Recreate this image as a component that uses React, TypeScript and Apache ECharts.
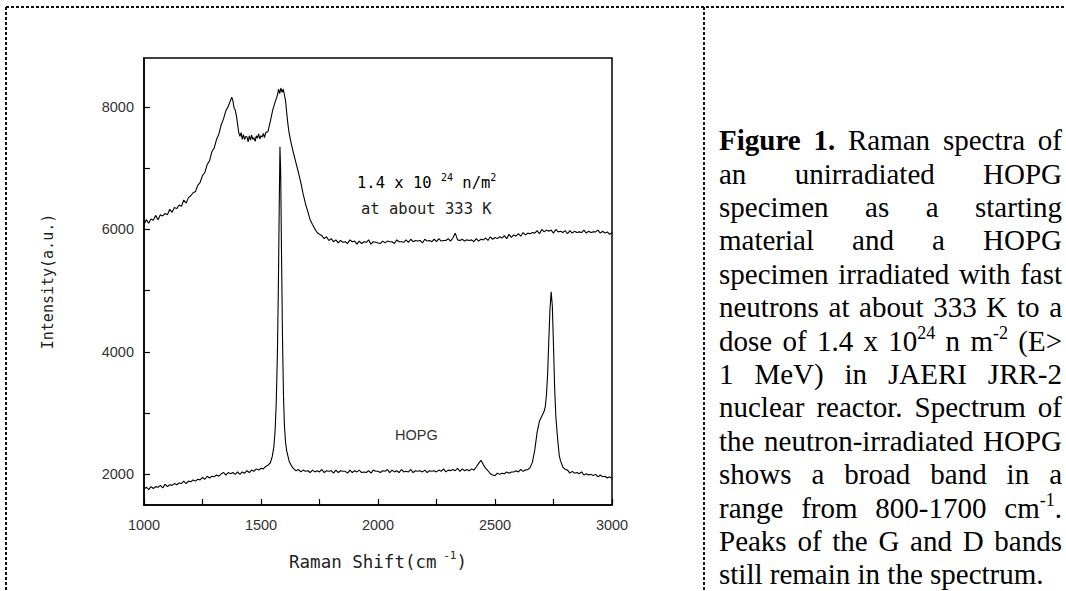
import React, { useEffect, useRef } from "react";
import * as echarts from "echarts";

const xTickValues = [1000, 1250, 1500, 1750, 2000, 2250, 2500, 2750, 3000];
const xLabelValues = [1000, 1500, 2000, 2500, 3000];
const yTickValues = [2000, 3000, 4000, 5000, 6000, 7000, 8000];
const yLabelValues = [2000, 4000, 6000, 8000];

// Neutron-irradiated HOPG (1.4 x 10^24 n/m^2 at about 333 K)
const irradiated: [number, number][] = [
  [1000, 6080], [1010, 6160], [1020, 6100], [1030, 6170], [1040, 6150], [1050, 6230], [1060, 6160], [1070, 6240],
  [1080, 6220], [1090, 6260], [1100, 6240], [1110, 6330], [1120, 6280], [1130, 6360], [1140, 6340], [1150, 6400],
  [1160, 6380], [1170, 6480], [1180, 6430], [1190, 6520], [1200, 6550], [1210, 6600], [1220, 6620], [1230, 6720],
  [1240, 6770], [1250, 6880], [1260, 6930], [1270, 7060], [1280, 7120], [1290, 7270], [1300, 7330], [1310, 7470],
  [1320, 7560], [1330, 7710], [1340, 7810], [1350, 7940], [1360, 8010], [1370, 8110], [1375, 8160], [1380, 8100],
  [1385, 7980], [1390, 7950], [1395, 7850], [1400, 7720], [1405, 7580], [1410, 7520], [1415, 7580], [1420, 7470],
  [1425, 7550], [1430, 7470], [1435, 7520], [1440, 7510], [1445, 7430], [1450, 7530], [1455, 7460], [1460, 7540],
  [1465, 7470], [1470, 7500], [1475, 7440], [1480, 7530], [1485, 7490], [1490, 7560], [1495, 7480], [1500, 7530],
  [1505, 7510], [1510, 7570], [1515, 7500], [1520, 7580], [1530, 7600], [1540, 7770], [1550, 7950], [1560, 8080],
  [1570, 8190], [1575, 8290], [1580, 8220], [1585, 8310], [1590, 8240], [1595, 8290], [1600, 8200], [1605, 8100],
  [1610, 7900], [1615, 7720], [1620, 7580], [1625, 7480], [1630, 7390], [1640, 7230], [1650, 7080], [1660, 6930],
  [1670, 6770], [1680, 6580], [1690, 6420], [1700, 6290], [1710, 6160], [1720, 6080], [1730, 6010], [1740, 5950],
  [1750, 5920], [1760, 5900], [1770, 5850], [1780, 5880], [1790, 5820], [1800, 5850], [1810, 5800], [1820, 5830],
  [1830, 5780], [1840, 5820], [1850, 5790], [1860, 5800], [1870, 5770], [1880, 5830], [1890, 5800], [1900, 5810],
  [1910, 5760], [1920, 5810], [1930, 5770], [1940, 5800], [1950, 5790], [1960, 5830], [1970, 5760], [1980, 5800],
  [1990, 5790], [2000, 5780], [2010, 5770], [2020, 5810], [2030, 5780], [2040, 5810], [2050, 5800], [2060, 5800],
  [2070, 5770], [2080, 5830], [2090, 5800], [2100, 5800], [2110, 5790], [2120, 5830], [2130, 5790], [2140, 5840],
  [2150, 5800], [2160, 5820], [2170, 5810], [2180, 5820], [2190, 5780], [2200, 5840], [2210, 5810], [2220, 5820],
  [2230, 5800], [2240, 5840], [2250, 5800], [2260, 5850], [2270, 5810], [2280, 5820], [2290, 5820], [2300, 5850],
  [2310, 5810], [2320, 5860], [2330, 5940], [2340, 5830], [2350, 5820], [2360, 5840], [2370, 5810], [2380, 5830],
  [2390, 5820], [2400, 5830], [2410, 5800], [2420, 5850], [2430, 5810], [2440, 5840], [2450, 5830], [2460, 5860],
  [2470, 5820], [2480, 5880], [2490, 5840], [2500, 5870], [2510, 5850], [2520, 5880], [2530, 5860], [2540, 5900],
  [2550, 5850], [2560, 5920], [2570, 5870], [2580, 5910], [2590, 5890], [2600, 5930], [2610, 5890], [2620, 5950],
  [2630, 5910], [2640, 5940], [2650, 5930], [2660, 5950], [2670, 5940], [2680, 5980], [2690, 5930], [2700, 6000],
  [2710, 5960], [2720, 5990], [2730, 5970], [2740, 5990], [2750, 5940], [2760, 6000], [2770, 5960], [2780, 5970],
  [2790, 5950], [2800, 5980], [2810, 5930], [2820, 5980], [2830, 5940], [2840, 5970], [2850, 5950], [2860, 5960],
  [2870, 5950], [2880, 5990], [2890, 5940], [2900, 5970], [2910, 5950], [2920, 5960], [2930, 5960], [2940, 5990],
  [2950, 5940], [2960, 5970], [2970, 5940], [2980, 5960], [2990, 5920], [3000, 5950],
];

// Unirradiated HOPG
const hopg: [number, number][] = [
  [1000, 1760], [1010, 1790], [1020, 1750], [1030, 1800], [1040, 1770], [1050, 1800], [1060, 1790], [1070, 1820],
  [1080, 1780], [1090, 1840], [1100, 1800], [1110, 1830], [1120, 1820], [1130, 1850], [1140, 1830], [1150, 1860],
  [1160, 1850], [1170, 1890], [1180, 1850], [1190, 1890], [1200, 1880], [1210, 1910], [1220, 1890], [1230, 1920],
  [1240, 1910], [1250, 1950], [1260, 1920], [1270, 1970], [1280, 1940], [1290, 1970], [1300, 1960], [1310, 1990],
  [1320, 1970], [1330, 2010], [1340, 2030], [1350, 1990], [1360, 2030], [1370, 2010], [1380, 2030], [1390, 2000],
  [1400, 2040], [1410, 2000], [1420, 2040], [1430, 2020], [1440, 2060], [1450, 2030], [1460, 2070], [1470, 2050],
  [1480, 2090], [1490, 2070], [1500, 2100], [1510, 2090], [1520, 2130], [1530, 2150], [1540, 2190], [1548, 2290],
  [1555, 2450], [1560, 2700], [1565, 3150], [1570, 3950], [1574, 5000], [1578, 6400], [1581, 7350], [1584, 6950],
  [1588, 5500], [1592, 4200], [1596, 3300], [1600, 2800], [1605, 2520], [1610, 2380], [1620, 2220], [1630, 2140],
  [1640, 2090], [1650, 2060], [1660, 2080], [1670, 2040], [1680, 2070], [1690, 2050], [1700, 2060], [1710, 2030],
  [1720, 2070], [1730, 2040], [1740, 2060], [1750, 2040], [1760, 2080], [1770, 2030], [1780, 2060], [1790, 2050],
  [1800, 2060], [1810, 2020], [1820, 2070], [1830, 2030], [1840, 2060], [1850, 2050], [1860, 2050], [1870, 2020],
  [1880, 2070], [1890, 2030], [1900, 2060], [1910, 2040], [1920, 2070], [1930, 2030], [1940, 2040], [1950, 2030],
  [1960, 2060], [1970, 2020], [1980, 2070], [1990, 2050], [2000, 2050], [2010, 2030], [2020, 2060], [2030, 2050],
  [2040, 2080], [2050, 2030], [2060, 2070], [2070, 2040], [2080, 2060], [2090, 2030], [2100, 2080], [2110, 2040],
  [2120, 2050], [2130, 2040], [2140, 2080], [2150, 2030], [2160, 2060], [2170, 2050], [2180, 2060], [2190, 2040],
  [2200, 2070], [2210, 2030], [2220, 2060], [2230, 2050], [2240, 2060], [2250, 2040], [2260, 2070], [2270, 2050],
  [2280, 2090], [2290, 2040], [2300, 2070], [2310, 2060], [2320, 2080], [2330, 2060], [2340, 2100], [2350, 2050],
  [2360, 2090], [2370, 2060], [2380, 2080], [2390, 2060], [2400, 2090], [2410, 2070], [2420, 2120], [2430, 2180],
  [2440, 2230], [2450, 2160], [2460, 2100], [2470, 2060], [2480, 2010], [2490, 1990], [2500, 1980], [2510, 2020],
  [2520, 2000], [2530, 2020], [2540, 2010], [2550, 2040], [2560, 2020], [2570, 2040], [2580, 2040], [2590, 2060],
  [2600, 2040], [2610, 2080], [2620, 2050], [2630, 2070], [2640, 2080], [2650, 2110], [2660, 2200], [2670, 2400],
  [2680, 2690], [2690, 2870], [2700, 2950], [2710, 3030], [2715, 3110], [2720, 3300], [2725, 3650], [2730, 4200],
  [2735, 4700], [2740, 4980], [2745, 4750], [2750, 4100], [2755, 3400], [2760, 2950], [2765, 2700], [2770, 2480],
  [2775, 2300], [2780, 2220], [2790, 2120], [2800, 2080], [2810, 2070], [2820, 2020], [2830, 2050], [2840, 2020],
  [2850, 2030], [2860, 2010], [2870, 2040], [2880, 1990], [2890, 2010], [2900, 1990], [2910, 2000], [2920, 1980],
  [2930, 2000], [2940, 1960], [2950, 1990], [2960, 1960], [2970, 1970], [2980, 1940], [2990, 1960], [3000, 1930],
];

const captionLines = [
  "*Figure *1. Raman spectra of",
  "an unirradiated HOPG",
  "specimen as a starting",
  "material and a HOPG",
  "specimen irradiated with fast",
  "neutrons at about 333 K to a",
  "dose of 1.4 x 10^{24} n m^{-2} (E>",
  "1 MeV) in JAERI JRR-2",
  "nuclear reactor. Spectrum of",
  "the neutron-irradiated HOPG",
  "shows a broad band in a",
  "range from 800-1700 cm^{-1}.",
  "Peaks of the G and D bands",
  "still remain in the spectrum.",
];

const MONO = '"DejaVu Sans Mono", monospace';
const SANS = '"Liberation Sans", Arial, sans-serif';
const SERIF = '"Liberation Serif", "Times New Roman", serif';

function buildCaption(): any[] {
  const canvas = document.createElement("canvas");
  const ctx = canvas.getContext("2d") as CanvasRenderingContext2D;
  const left = 719;
  const right = 1062;
  const base0 = 150;
  const step = 33.4;
  const size = 29;
  const supSize = 18;
  const els: any[] = [];
  captionLines.forEach((line, i) => {
    const tokens = line.split(" ").map((raw) => {
      let tok = raw;
      let bold = false;
      if (tok.startsWith("*")) {
        bold = true;
        tok = tok.slice(1);
      }
      const segs: { text: string; sup: boolean }[] = [];
      const re = /\^\{([^}]*)\}/g;
      let last = 0;
      let m: RegExpExecArray | null;
      while ((m = re.exec(tok))) {
        if (m.index > last) segs.push({ text: tok.slice(last, m.index), sup: false });
        segs.push({ text: m[1], sup: true });
        last = m.index + m[0].length;
      }
      if (last < tok.length) segs.push({ text: tok.slice(last), sup: false });
      const measured = segs.map((s) => {
        ctx.font = `${bold ? "bold " : ""}${s.sup ? supSize : size}px ${SERIF}`;
        return { ...s, w: ctx.measureText(s.text).width };
      });
      return { bold, segs: measured, w: measured.reduce((a, b) => a + b.w, 0) };
    });
    const total = tokens.reduce((a, t) => a + t.w, 0);
    const isLast = i === captionLines.length - 1;
    const gap = isLast || tokens.length < 2 ? size * 0.25 : (right - left - total) / (tokens.length - 1);
    const baseline = base0 + step * i;
    let x = left;
    tokens.forEach((t) => {
      t.segs.forEach((s) => {
        const fs = s.sup ? supSize : size;
        const y = s.sup ? baseline - 17 : baseline - 0.3375 * size;
        els.push({
          type: "text",
          x,
          y,
          silent: true,
          style: {
            text: s.text,
            fill: "#000",
            fontFamily: SERIF,
            fontSize: fs,
            fontWeight: t.bold ? "bold" : "normal",
            textAlign: "left",
            textVerticalAlign: "middle",
            align: "left",
            verticalAlign: "middle",
          },
        });
        x += s.w;
      });
      x += gap;
    });
  });
  return els;
}

export default function App() {
  const ref = useRef<HTMLDivElement>(null);
  useEffect(() => {
    if (!ref.current) return;
    const chart = echarts.init(ref.current, null, { renderer: "svg" });
    const dash = { stroke: "#111", lineWidth: 2, lineDash: [3, 2] };
    const annRich = {
      a: { fontFamily: MONO, fontSize: 15.5, color: "#222", lineHeight: 22 },
      b: { fontFamily: MONO, fontSize: 10, color: "#222", lineHeight: 10, verticalAlign: "top" },
    };
    const plain = (v: number) => String(v);
    const option: any = {
      animation: false,
      backgroundColor: "#fff",
      grid: {
        left: 144,
        top: 58,
        width: 468,
        height: 447,
        show: true,
        borderColor: "#000",
        borderWidth: 1.5,
        backgroundColor: "transparent",
      },
      xAxis: {
        type: "value",
        min: 1000,
        max: 3000,
        interval: 250,
        name: "{a|Raman Shift(cm}{b| -1}{a|)}",
        nameLocation: "middle",
        nameGap: 45,
        nameTextStyle: {
          rich: {
            a: { fontFamily: MONO, fontSize: 17.5, color: "#222", lineHeight: 24 },
            b: { fontFamily: MONO, fontSize: 11, color: "#222", lineHeight: 11, verticalAlign: "top" },
          },
        },
        axisLine: { show: true, lineStyle: { color: "#000", width: 1.5 } },
        axisTick: { show: true, inside: true, length: 6, customValues: xTickValues, lineStyle: { color: "#000", width: 1.2 } },
        axisLabel: {
          customValues: xLabelValues,
          formatter: plain,
          margin: 12,
          color: "#333",
          fontFamily: SANS,
          fontSize: 14.5,
        },
        splitLine: { show: false },
      },
      yAxis: {
        type: "value",
        min: 1500,
        max: 8800,
        name: "Intensity(a.u.)",
        nameLocation: "middle",
        nameGap: 89,
        nameTextStyle: { fontFamily: MONO, fontSize: 15, color: "#222" },
        axisLine: { show: true, lineStyle: { color: "#000", width: 1.5 } },
        axisTick: { show: true, inside: true, length: 6, customValues: yTickValues, lineStyle: { color: "#000", width: 1.2 } },
        axisLabel: {
          customValues: yLabelValues,
          formatter: plain,
          margin: 10,
          color: "#333",
          fontFamily: SANS,
          fontSize: 14.5,
        },
        splitLine: { show: false },
      },
      series: [
        {
          name: "1.4 x 10^24 n/m^2 at about 333 K",
          type: "line",
          data: irradiated,
          showSymbol: false,
          lineStyle: { color: "#000", width: 1.1 },
          silent: true,
        },
        {
          name: "HOPG",
          type: "line",
          data: hopg,
          showSymbol: false,
          lineStyle: { color: "#000", width: 1.1 },
          silent: true,
        },
      ],
      graphic: {
        elements: [
          { type: "line", shape: { x1: 6, y1: 7, x2: 1066, y2: 7 }, style: dash, silent: true },
          { type: "line", shape: { x1: 6, y1: 7, x2: 6, y2: 591 }, style: dash, silent: true },
          { type: "line", shape: { x1: 704, y1: 7, x2: 704, y2: 591 }, style: dash, silent: true },
          {
            type: "text",
            x: 357,
            y: 183,
            silent: true,
            style: { text: "{a|1.4 x 10 }{b|24}{a| n/m}{b|2}", rich: annRich, textVerticalAlign: "middle", verticalAlign: "middle" },
          },
          {
            type: "text",
            x: 361,
            y: 209,
            silent: true,
            style: { text: "at about 333 K", fontFamily: MONO, fontSize: 15.5, fill: "#222", textVerticalAlign: "middle", verticalAlign: "middle" },
          },
          {
            type: "text",
            x: 395,
            y: 435,
            silent: true,
            style: { text: "HOPG", fontFamily: SANS, fontSize: 14.5, fill: "#333", textVerticalAlign: "middle", verticalAlign: "middle" },
          },
          ...buildCaption(),
        ],
      },
    };
    chart.setOption(option);
    return () => chart.dispose();
  }, []);
  return (
    <div
      ref={ref}
      style={{ position: "absolute", left: 0, top: 0, width: 1066, height: 591, background: "#fff" }}
    />
  );
}
